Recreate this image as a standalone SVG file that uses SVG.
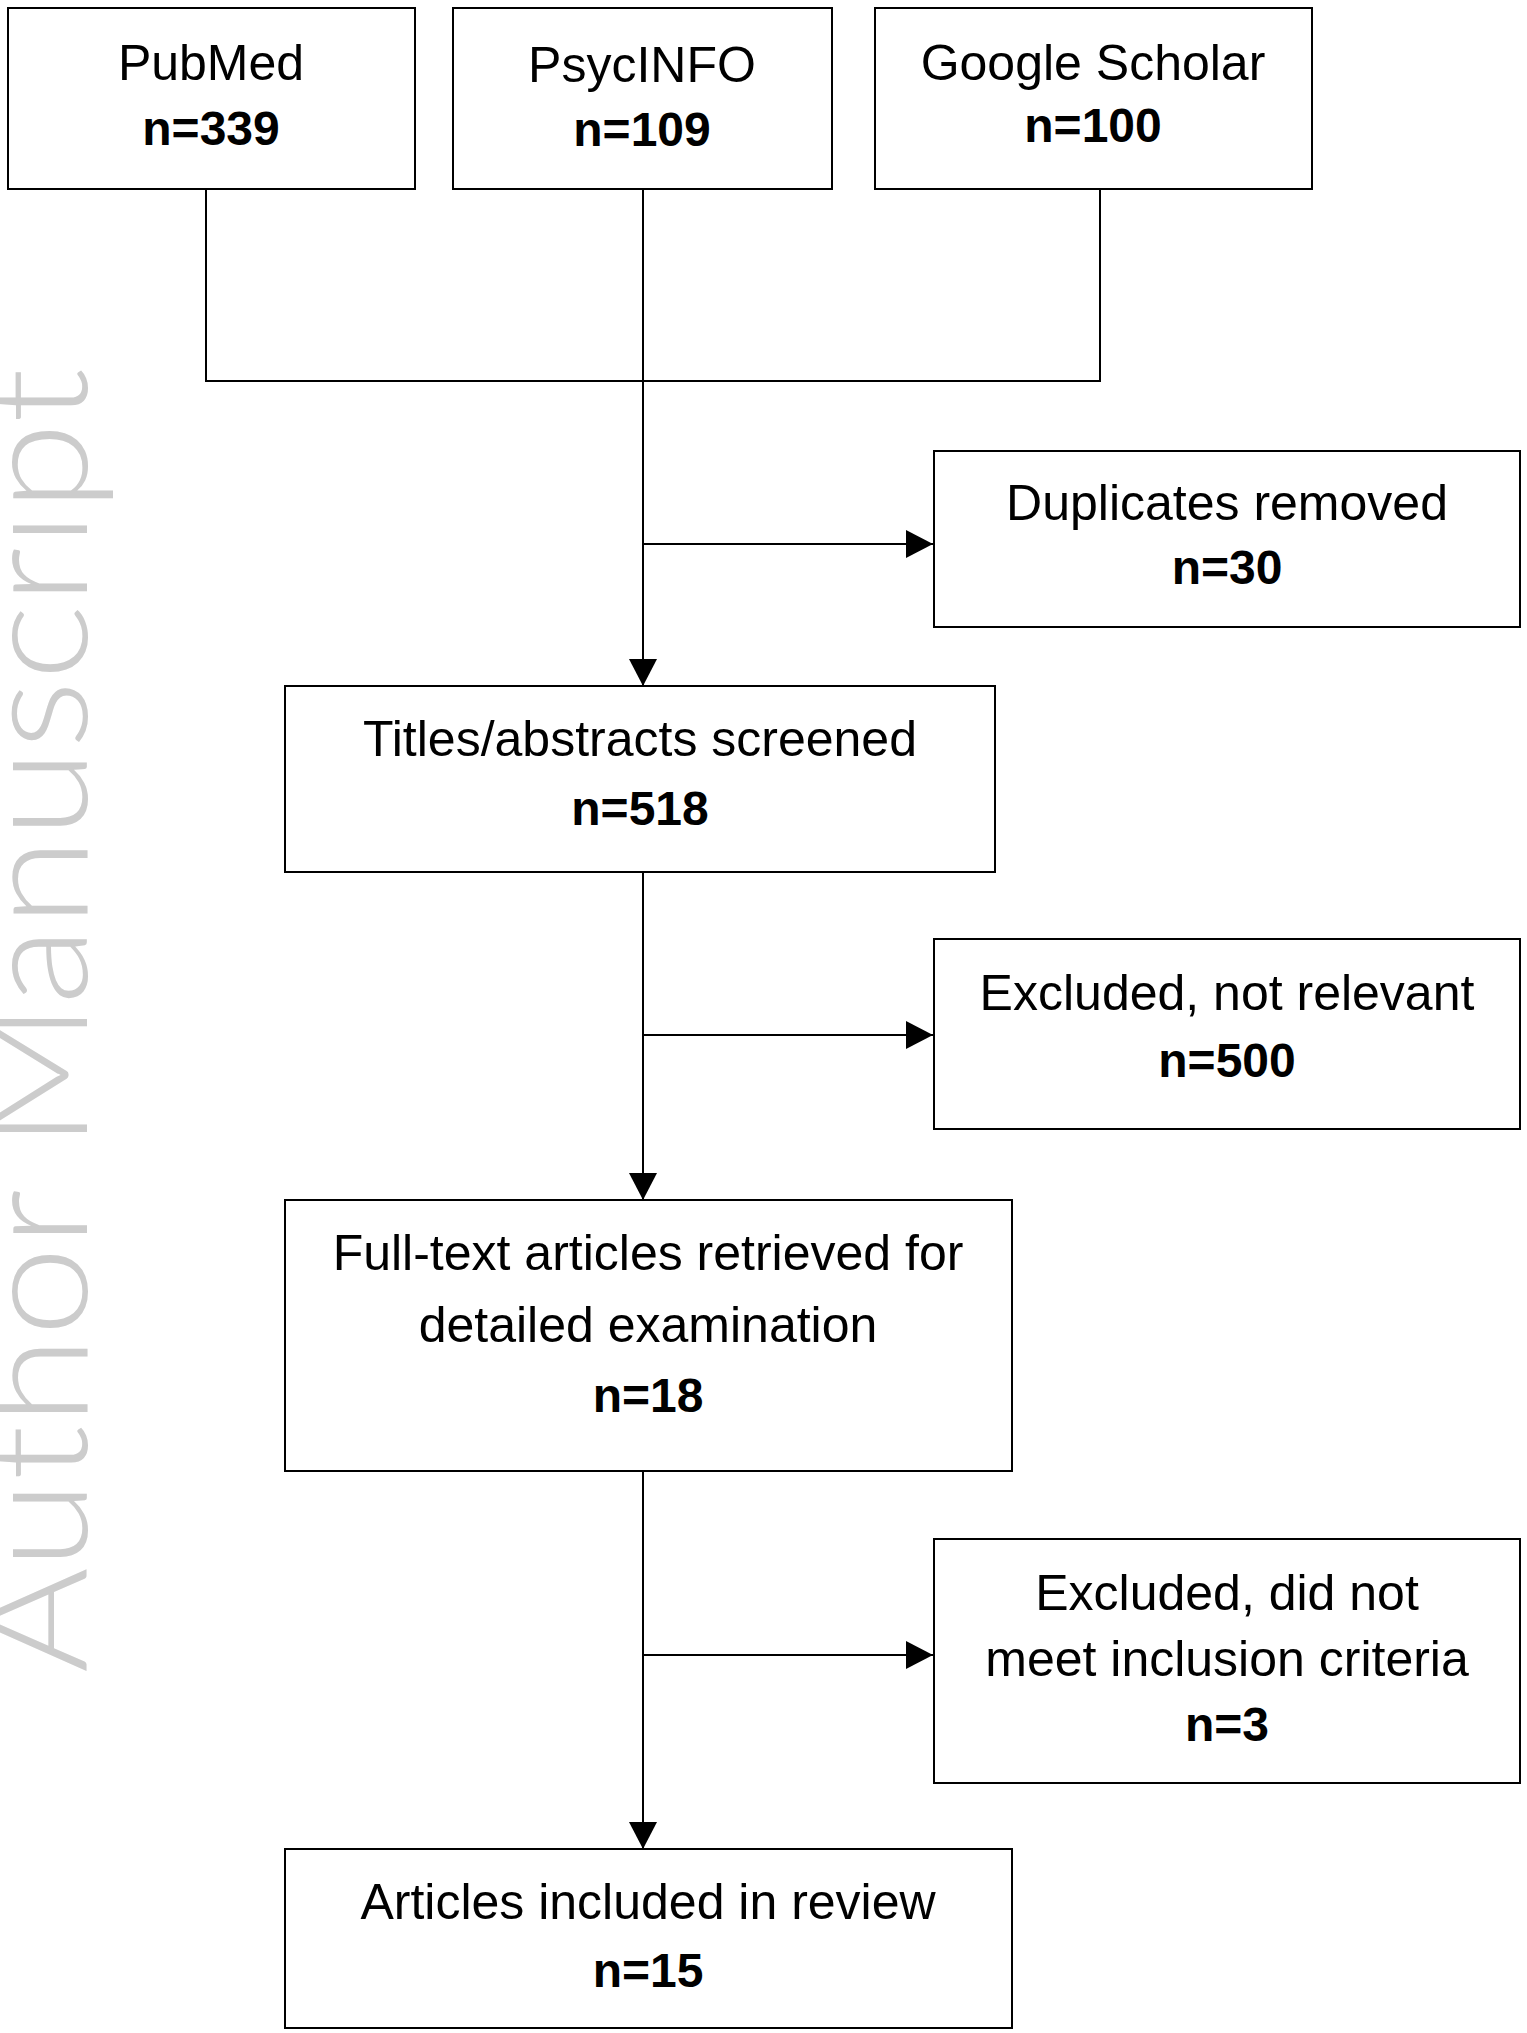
<svg xmlns="http://www.w3.org/2000/svg" width="1527" height="2033" viewBox="0 0 1527 2033">
<style>
.box{fill:#fff;stroke:#000;stroke-width:2}
.t{font-family:"Liberation Sans",Arial,sans-serif;font-size:50px;fill:#000;text-anchor:middle}
.b{font-family:"Liberation Sans",Arial,sans-serif;font-size:48px;font-weight:bold;fill:#000;text-anchor:middle}
.c{fill:none;stroke:#000;stroke-width:2}
.wm{font-family:Lato,"Liberation Sans",sans-serif;font-weight:300;font-size:148px;fill:#cccccc}
</style>
<defs>
<marker id="ah" markerUnits="userSpaceOnUse" markerWidth="28" markerHeight="28" refX="27" refY="14" orient="auto">
<path d="M0,0 L27,14 L0,28 Z" fill="#000"/>
</marker>
</defs>
<rect width="1527" height="2033" fill="#fff"/>
<text class="wm" transform="translate(87,1673) rotate(-90)" textLength="1305" lengthAdjust="spacingAndGlyphs">Author Manuscript</text>
<g id="connectors">
<polyline class="c" points="206,189 206,381 1100,381 1100,189"/>
<line class="c" x1="643" y1="189" x2="643" y2="686" marker-end="url(#ah)"/>
<line class="c" x1="643" y1="544" x2="933" y2="544" marker-end="url(#ah)"/>
<line class="c" x1="643" y1="872" x2="643" y2="1200" marker-end="url(#ah)"/>
<line class="c" x1="643" y1="1035" x2="933" y2="1035" marker-end="url(#ah)"/>
<line class="c" x1="643" y1="1471" x2="643" y2="1849" marker-end="url(#ah)"/>
<line class="c" x1="643" y1="1655" x2="933" y2="1655" marker-end="url(#ah)"/>
</g>
<g id="pubmed">
<rect class="box" x="8" y="8" width="407" height="181"/>
<text class="t" x="211" y="80">PubMed</text>
<text class="b" x="211" y="145">n=339</text>
</g>
<g id="psycinfo">
<rect class="box" x="453" y="8" width="379" height="181"/>
<text class="t" x="642" y="82">PsycINFO</text>
<text class="b" x="642" y="146">n=109</text>
</g>
<g id="scholar">
<rect class="box" x="875" y="8" width="437" height="181"/>
<text class="t" x="1093" y="80">Google Scholar</text>
<text class="b" x="1093" y="142">n=100</text>
</g>
<g id="duplicates">
<rect class="box" x="934" y="451" width="586" height="176"/>
<text class="t" x="1227" y="520">Duplicates removed</text>
<text class="b" x="1227" y="584">n=30</text>
</g>
<g id="screened">
<rect class="box" x="285" y="686" width="710" height="186"/>
<text class="t" x="640" y="756">Titles/abstracts screened</text>
<text class="b" x="640" y="825">n=518</text>
</g>
<g id="excluded1">
<rect class="box" x="934" y="939" width="586" height="190"/>
<text class="t" x="1227" y="1010">Excluded, not relevant</text>
<text class="b" x="1227" y="1077">n=500</text>
</g>
<g id="fulltext">
<rect class="box" x="285" y="1200" width="727" height="271"/>
<text class="t" x="648" y="1270">Full-text articles retrieved for</text>
<text class="t" x="648" y="1342">detailed examination</text>
<text class="b" x="648" y="1412">n=18</text>
</g>
<g id="excluded2">
<rect class="box" x="934" y="1539" width="586" height="244"/>
<text class="t" x="1227" y="1610">Excluded, did not</text>
<text class="t" x="1227" y="1676">meet inclusion criteria</text>
<text class="b" x="1227" y="1741">n=3</text>
</g>
<g id="included">
<rect class="box" x="285" y="1849" width="727" height="179"/>
<text class="t" x="648" y="1919">Articles included in review</text>
<text class="b" x="648" y="1987">n=15</text>
</g>
</svg>
